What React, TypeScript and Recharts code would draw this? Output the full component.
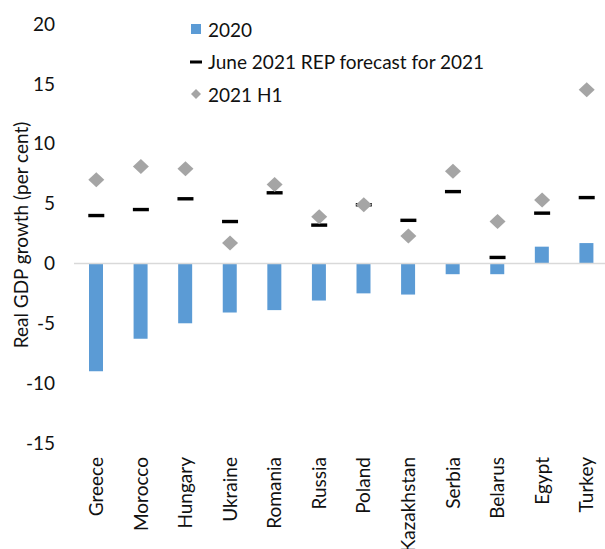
import { ComposedChart, Bar, Scatter, XAxis, YAxis, ReferenceLine, Legend } from 'recharts';

const countries = ['Greece', 'Morocco', 'Hungary', 'Ukraine', 'Romania', 'Russia', 'Poland', 'Kazakhstan', 'Serbia', 'Belarus', 'Egypt', 'Turkey'];
const growth2020 = [-9.0, -6.3, -5.0, -4.1, -3.9, -3.1, -2.5, -2.6, -0.9, -0.9, 1.4, 1.7];
const forecast2021 = [4.0, 4.5, 5.4, 3.5, 5.9, 3.2, 4.9, 3.6, 6.0, 0.5, 4.2, 5.5];
const h1of2021 = [7.0, 8.1, 7.9, 1.7, 6.6, 3.9, 4.9, 2.3, 7.7, 3.5, 5.3, 14.5];
const yTicks = [-15, -10, -5, 0, 5, 10, 15, 20];

const FONT = 'Lato, "Open Sans", sans-serif';
const TEXT = '#111';
const BLUE = '#5B9BD5';
const GREY = '#A5A5A5';

const data = countries.map((c, i) => ({
  country: c,
  y2020: growth2020[i],
  forecast: forecast2021[i],
  h1: h1of2021[i],
}));

// eslint-disable-next-line @typescript-eslint/no-explicit-any
function Dash({ cx, cy }: any) {
  if (cx == null || cy == null) return null;
  return <rect x={cx - 8} y={cy - 1.7} width={16} height={3.4} fill="#000" />;
}

// eslint-disable-next-line @typescript-eslint/no-explicit-any
function Diamond({ cx, cy }: any) {
  if (cx == null || cy == null) return null;
  return <polygon points={`${cx},${cy - 7.5} ${cx + 8},${cy} ${cx},${cy + 7.5} ${cx - 8},${cy}`} fill={GREY} />;
}

// eslint-disable-next-line @typescript-eslint/no-explicit-any
function CountryTick({ x, y, payload }: any) {
  return (
    <text
      transform={`translate(${x},${y + 6}) rotate(-90)`}
      textAnchor="end"
      dy="0.35em"
      fill={TEXT}
      fontSize={19}
      fontFamily={FONT}
    >
      {payload.value}
    </text>
  );
}

function LegendBox() {
  const row = { display: 'flex', alignItems: 'center', height: 32.5 } as const;
  const text = { marginLeft: 6, fontSize: 19, color: TEXT, fontFamily: FONT, whiteSpace: 'nowrap' } as const;
  return (
    <div>
      <div style={row}>
        <svg width={12} height={12}><rect x={1} y={1} width={10} height={10} fill={BLUE} /></svg>
        <span style={text}>2020</span>
      </div>
      <div style={row}>
        <svg width={12} height={12}><rect x={0} y={4.5} width={12} height={3} fill="#000" /></svg>
        <span style={text}>June 2021 REP forecast for 2021</span>
      </div>
      <div style={row}>
        <svg width={12} height={12}><polygon points="6,1 11,6 6,11 1,6" fill={GREY} /></svg>
        <span style={text}>2021 H1</span>
      </div>
    </div>
  );
}

export default function App() {
  return (
    <div style={{ position: 'absolute', left: 0, top: 0, width: 605, height: 549, overflow: 'hidden', background: '#fff' }}>
      <ComposedChart width={610} height={549} data={data} margin={{ top: 24, right: 1, left: 0, bottom: 0 }}>
        <XAxis
          dataKey="country"
          axisLine={false}
          tickLine={false}
          interval={0}
          height={106}
          tick={<CountryTick />}
        />
        <YAxis
          domain={[-15, 20]}
          ticks={yTicks}
          axisLine={false}
          tickLine={false}
          tickMargin={13}
          width={74}
          tick={{ fill: TEXT, fontSize: 19, fontFamily: FONT }}
          label={() => (
            <text
              transform="translate(21,235) rotate(-90)"
              textAnchor="middle"
              dy="0.35em"
              fill={TEXT}
              fontSize={19}
              fontFamily={FONT}
            >
              Real GDP growth (per cent)
            </text>
          )}
        />
        <ReferenceLine y={0} stroke="#D9D9D9" strokeWidth={1.5} />
        <Legend
          layout="vertical"
          align="center"
          verticalAlign="middle"
          content={<LegendBox />}
          wrapperStyle={{ position: 'absolute', top: 13, left: 190, width: 'auto' }}
        />
        <Bar dataKey="y2020" fill={BLUE} barSize={14} isAnimationActive={false} />
        <Scatter dataKey="forecast" shape={<Dash />} isAnimationActive={false} />
        <Scatter dataKey="h1" shape={<Diamond />} isAnimationActive={false} />
      </ComposedChart>
    </div>
  );
}
